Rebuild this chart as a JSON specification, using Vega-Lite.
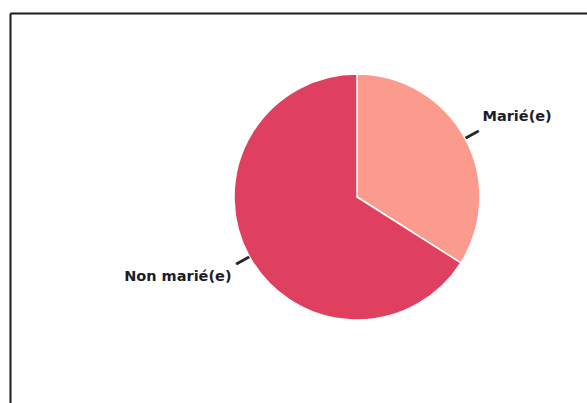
{
  "$schema": "https://vega.github.io/schema/vega-lite/v6.json",
  "width": 577,
  "height": 390,
  "padding": {"left": 10, "top": 13, "right": 0, "bottom": 0},
  "autosize": {"type": "none"},
  "background": "white",
  "view": {"stroke": null},
  "data": {"values": [
    {"statut": "Marié(e)", "pct": 34, "ordre": 1},
    {"statut": "Non marié(e)", "pct": 66, "ordre": 2}
  ]},
  "layer": [
    {
      "mark": {"type": "point", "opacity": 0},
      "encoding": {
        "x": {"datum": 0, "type": "quantitative", "scale": {"domain": [0, 1]}, "axis": {"orient": "top", "domainColor": "#1a1a1a", "domainWidth": 2, "ticks": false, "labels": false, "title": null, "grid": false}},
        "y": {"datum": 0, "type": "quantitative", "scale": {"domain": [0, 1]}, "axis": {"orient": "left", "domainColor": "#1a1a1a", "domainWidth": 2, "ticks": false, "labels": false, "title": null, "grid": false}}
      }
    },
    {
      "mark": {"type": "arc", "radius": 123, "x": 347, "y": 184, "stroke": "white", "strokeWidth": 1.5},
      "encoding": {
        "theta": {"field": "pct", "type": "quantitative", "stack": true},
        "order": {"field": "ordre", "type": "quantitative"},
        "color": {"field": "statut", "type": "nominal", "scale": {"domain": ["Marié(e)", "Non marié(e)"], "range": ["#fb9b8d", "#e0405f"]}, "legend": null}
      }
    },
    {
      "mark": {"type": "text", "radius": 131, "x": 347, "y": 184, "text": "—", "angle": 331, "fontSize": 16, "fontWeight": "bold", "font": "DejaVu Sans", "baseline": "middle", "align": "center", "stroke": "#222222", "strokeWidth": 0.6},
      "encoding": {
        "theta": {"field": "pct", "type": "quantitative", "stack": true},
        "order": {"field": "ordre", "type": "quantitative"},
        "color": {"value": "#222222"}
      }
    },
    {
      "mark": {"type": "text", "radius": 166, "x": 347, "y": 184, "font": "DejaVu Sans", "fontWeight": "bold", "fontSize": 14.5, "baseline": "middle",
        "align": {"expr": "datum.statut == 'Marié(e)' ? 'left' : 'right'"},
        "dx": {"expr": "datum.statut == 'Marié(e)' ? -20 : 20"}},
      "encoding": {
        "theta": {"field": "pct", "type": "quantitative", "stack": true},
        "order": {"field": "ordre", "type": "quantitative"},
        "text": {"field": "statut"},
        "color": {"value": "#1c1c2a"}
      }
    }
  ]
}
